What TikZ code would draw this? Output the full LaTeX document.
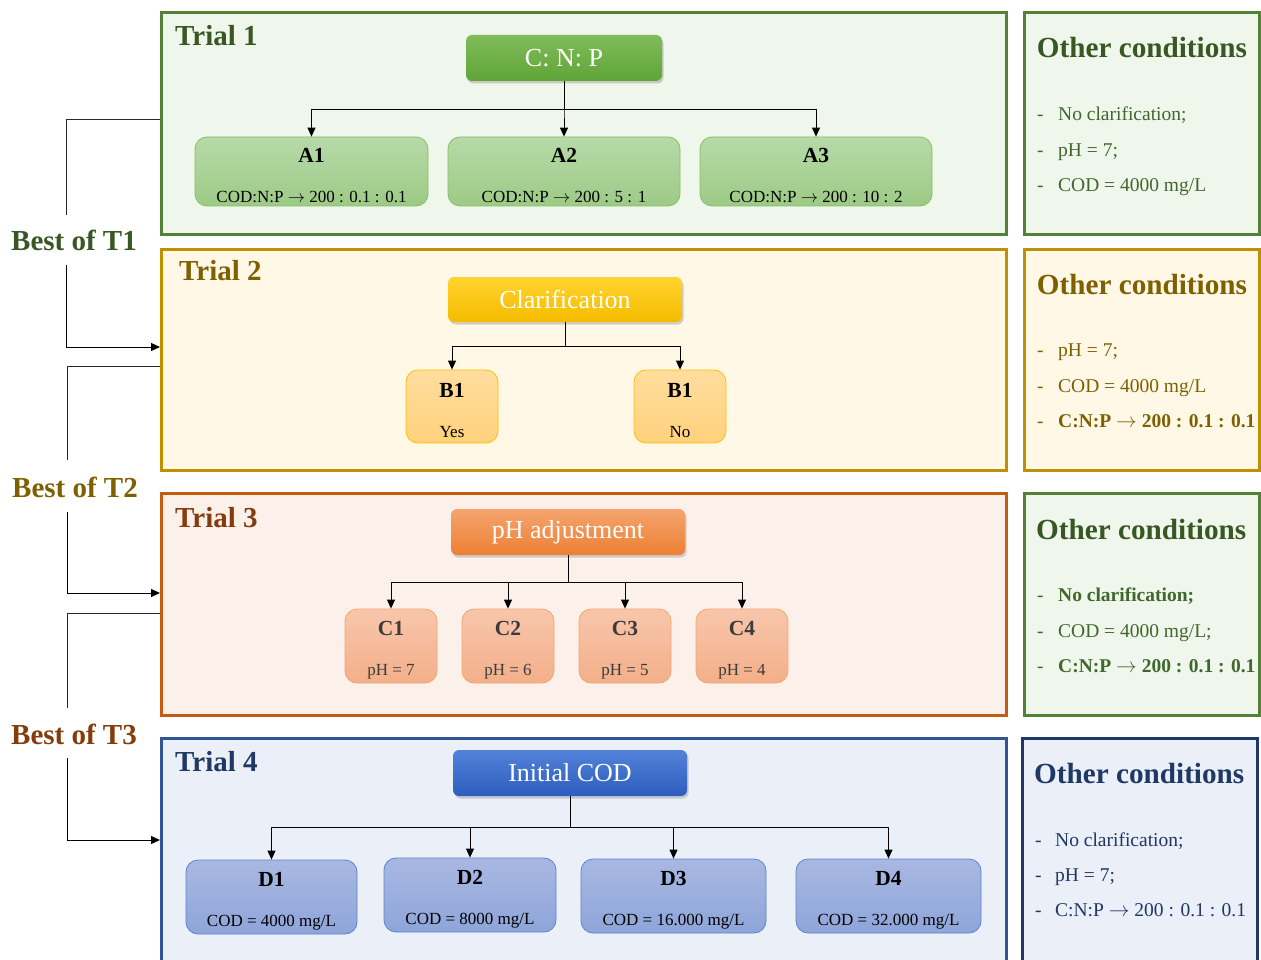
\documentclass[tikz,border=0pt]{standalone}
\usepackage{fontspec}
\setmainfont{Liberation Serif}
\usetikzlibrary{shadows,arrows.meta,calc}
\definecolor{gBorder}{HTML}{548235}
\definecolor{gFill}{HTML}{EFF6EB}
\definecolor{gDark}{HTML}{385723}
\definecolor{gText}{HTML}{41672C}
\definecolor{yBorder}{HTML}{BF9000}
\definecolor{yFill}{HTML}{FFF8E6}
\definecolor{yDark}{HTML}{7F6000}
\definecolor{oBorder}{HTML}{C55A11}
\definecolor{oFill}{HTML}{FCF1EA}
\definecolor{oDark}{HTML}{843C0C}
\definecolor{bBorder}{HTML}{2F5597}
\definecolor{bBorderD}{HTML}{203864}
\definecolor{bFill}{HTML}{EAEFF8}
\definecolor{bDark}{HTML}{1F3864}
\newcommand{\rarr}{\ensuremath{\rightarrow}}
\newcommand{\kidtop}[1]{\rule{0pt}{22pt}{\fontsize{21.5}{40}\selectfont\bfseries #1}}
\begin{document}
\begin{tikzpicture}[x=1pt,y=-1pt,
  panel/.style={draw, line width=3pt, inner sep=0pt},
  ttl/.style={anchor=base west, inner sep=0pt, font=\fontsize{29}{32}\selectfont\bfseries},
  hdr/.style={rounded corners=6pt, text=white, inner sep=0pt, minimum width=234pt, minimum height=46pt,
     font=\fontsize{26}{30}\selectfont, drop shadow={shadow xshift=1.5pt, shadow yshift=-2.5pt, opacity=0.35}},
  kid/.style={draw, rounded corners=12pt, line width=0.8pt, align=center, inner sep=0pt,
     font=\fontsize{17}{40}\selectfont},
  kidA/.style={kid, draw={rgb,255:red,132;green,192;blue,98}, top color={rgb,255:red,183;green,218;blue,168}, bottom color={rgb,255:red,157;green,202;blue,134}, minimum width=232pt, minimum height=69pt},
  kidB/.style={kid, draw={rgb,255:red,255;green,192;blue,0}, top color={rgb,255:red,255;green,221;blue,158}, bottom color={rgb,255:red,255;green,209;blue,124}, minimum width=92pt, minimum height=73pt},
  kidC/.style={kid, text={rgb,255:red,59;green,59;blue,59}, draw={rgb,255:red,244;green,166;blue,108}, top color={rgb,255:red,248;green,198;blue,171}, bottom color={rgb,255:red,243;green,175;blue,138}, minimum width=92pt, minimum height=74pt},
  kidD/.style={kid, draw={rgb,255:red,90;green,133;blue,209}, top color={rgb,255:red,169;green,184;blue,226}, bottom color={rgb,255:red,142;green,165;blue,217}, minimum height=74pt},
  arr/.style={draw=black, line width=0.9pt, -{Triangle[length=9pt,width=8pt]}},
  lnk/.style={draw={rgb,255:red,40;green,40;blue,40}, line width=0.9pt},
  best/.style={font=\fontsize{29}{32}\selectfont\bfseries, inner sep=0pt},
  oct/.style={anchor=base west, inner sep=0pt, font=\fontsize{29.2}{32}\selectfont\bfseries},
  item/.style={anchor=base west, inner sep=0pt, font=\fontsize{19.5}{24}\selectfont}
]
\useasboundingbox (0,0) rectangle (1261,960);

% panels
\node[panel, draw=gBorder, fill=gFill, minimum width=845pt, minimum height=222pt] (t1) at (584,123.5) {};
\node[panel, draw=gBorder, fill=gFill, minimum width=235pt, minimum height=222pt] (o1) at (1142,123.5) {};
\node[panel, draw=yBorder, fill=yFill, minimum width=845pt, minimum height=221pt] (t2) at (584,360) {};
\node[panel, draw=yBorder, fill=yFill, minimum width=235pt, minimum height=221pt] (o2) at (1142,360) {};
\node[panel, draw=oBorder, fill=oFill, minimum width=845pt, minimum height=222pt] (t3) at (584,604.5) {};
\node[panel, draw=gBorder, fill=gFill, minimum width=235pt, minimum height=222pt] (o3) at (1142,604.5) {};
\node[panel, draw=bBorder, fill=bFill, minimum width=845pt, minimum height=246.5pt] (t4) at (584,861.75) {};
\node[panel, draw=bBorderD, fill=bFill, minimum width=235pt, minimum height=246.5pt] (o4) at (1140,861.75) {};

% titles
\node[ttl, text=gDark] (t1t) at (175,45.7) {Trial 1};
\node[ttl, text=yDark] (t2t) at (179,280.7) {Trial 2};
\node[ttl, text=oDark] (t3t) at (175,527) {Trial 3};
\node[ttl, text=bDark] (t4t) at (175,771.7) {Trial 4};

% headers
\node[hdr, minimum width=196pt, top color={rgb,255:red,128;green,188;blue,90}, bottom color={rgb,255:red,95;green,165;blue,54}] (cnp) at (564,58) {C: N: P};
\node[hdr, minimum height=45pt, top color={rgb,255:red,255;green,211;blue,46}, bottom color={rgb,255:red,245;green,188;blue,0}] (clar) at (565,299.5) {Clarification};
\node[hdr, top color={rgb,255:red,245;green,164;blue,110}, bottom color={rgb,255:red,236;green,128;blue,51}] (pha) at (568,532) {\raisebox{-2pt}{pH adjustment}};
\node[hdr, top color={rgb,255:red,82;green,130;blue,216}, bottom color={rgb,255:red,46;green,93;blue,190}] (icod) at (570,773) {\raisebox{-1.5pt}{Initial COD}};

% Trial 1 children
\node[kidA, minimum width=233pt] (a1) at (311.5,171.5) {\kidtop{A1}\\COD:N:P \rarr\ 200 : 0.1 : 0.1};
\node[kidA] (a2) at (564,171.5) {\kidtop{A2}\\COD:N:P \rarr\ 200 : 5 : 1};
\node[kidA] (a3) at (816,171.5) {\kidtop{A3}\\COD:N:P \rarr\ 200 : 10 : 2};
\coordinate (j1) at (564,109);
\draw[arr] (cnp.south) -- (j1) -| (a1.north);
\draw[arr] (cnp.south) -- (j1) -| (a2.north);
\draw[arr] (cnp.south) -- (j1) -| (a3.north);

% Trial 2 children
\node[kidB] (b1) at (452,406.5) {\kidtop{B1}\\Yes};
\node[kidB] (b2) at (680,406.5) {\kidtop{B1}\\No};
\coordinate (j2) at (565,346);
\draw[arr] (clar.south) -- (j2) -| (b1.north);
\draw[arr] (clar.south) -- (j2) -| (b2.north);

% Trial 3 children
\node[kidC] (c1) at (391,646) {\kidtop{C1}\\pH = 7};
\node[kidC] (c2) at (508,646) {\kidtop{C2}\\pH = 6};
\node[kidC] (c3) at (625,646) {\kidtop{C3}\\pH = 5};
\node[kidC] (c4) at (742,646) {\kidtop{C4}\\pH = 4};
\coordinate (j3) at (568,582);
\foreach \k in {c1,c2,c3,c4} \draw[arr] (pha.south) -- (j3) -| (\k.north);

% Trial 4 children
\node[kidD, minimum width=171pt] (d1) at (271.5,897) {\kidtop{D1}\\COD = 4000 mg/L};
\node[kidD, minimum width=172pt] (d2) at (470,895) {\kidtop{D2}\\COD = 8000 mg/L};
\node[kidD, minimum width=185pt] (d3) at (673.5,896) {\kidtop{D3}\\COD = 16.000 mg/L};
\node[kidD, minimum width=185pt] (d4) at (888.5,896) {\kidtop{D4}\\COD = 32.000 mg/L};
\coordinate (j4) at (570,827);
\foreach \k in {d1,d2,d3,d4} \draw[arr] (icod.south) -- (j4) -| (\k.north);

% left "best of" links
\node[best, text=gDark] (best1) at (74,240) {Best of T1};
\node[best, text=yDark] (best2) at (75,487) {Best of T2};
\node[best, text=oDark] (best3) at (74,734) {Best of T3};
\coordinate (k1a) at (66,215); \coordinate (k1b) at (66,265);
\coordinate (k2a) at (67,460); \coordinate (k2b) at (67,512);
\coordinate (k3a) at (67,708); \coordinate (k3b) at (67,758);
\draw[lnk] ([yshift=4.5pt]t1.west) -| (k1a);
\draw[lnk, arr] (k1b) |- ([yshift=13pt]t2.west);
\draw[lnk] ([yshift=-6pt]t2.west) -| (k2a);
\draw[lnk, arr] (k2b) |- ([yshift=11.5pt]t3.west);
\draw[lnk] ([yshift=-8.5pt]t3.west) -| (k3a);
\draw[lnk, arr] (k3b) |- ([yshift=21.75pt]t4.west);

% other conditions
\node[oct, text=gDark] (o1h) at (1036.7,57.5) {Other conditions};
\node[item, text=gText] (o1a) at (1037,120.7) {\makebox[21pt][l]{-}No clarification;};
\node[item, text=gText] (o1b) at (1037,156.2) {\makebox[21pt][l]{-}pH = 7;};
\node[item, text=gText] (o1c) at (1037,191.7) {\makebox[21pt][l]{-}COD = 4000 mg/L};

\node[oct, text=yDark] (o2h) at (1036.7,294.3) {Other conditions};
\node[item, text=yDark] (o2a) at (1037,356) {\makebox[21pt][l]{-}pH = 7;};
\node[item, text=yDark] (o2b) at (1037,392) {\makebox[21pt][l]{-}COD = 4000 mg/L};
\node[item, text=yDark] (o2c) at (1037,427.7) {\makebox[21pt][l]{-}\textbf{C:N:P \rarr\ 200 : 0.1 : 0.1}};

\node[oct, text=gDark] (o3h) at (1036,539.3) {Other conditions};
\node[item, text=gText] (o3a) at (1037,601.7) {\makebox[21pt][l]{-}\textbf{No clarification;}};
\node[item, text=gText] (o3b) at (1037,637.3) {\makebox[21pt][l]{-}COD = 4000 mg/L;};
\node[item, text=gText] (o3c) at (1037,672.7) {\makebox[21pt][l]{-}\textbf{C:N:P \rarr\ 200 : 0.1 : 0.1}};

\node[oct, text=bDark] (o4h) at (1034,783.3) {Other conditions};
\node[item, text=bDark] (o4a) at (1035,846) {\makebox[20pt][l]{-}No clarification;};
\node[item, text=bDark] (o4b) at (1035,881.7) {\makebox[20pt][l]{-}pH = 7;};
\node[item, text=bDark] (o4c) at (1035,916.7) {\makebox[20pt][l]{-}C:N:P \rarr\ 200 : 0.1 : 0.1};
\end{tikzpicture}
\end{document}
